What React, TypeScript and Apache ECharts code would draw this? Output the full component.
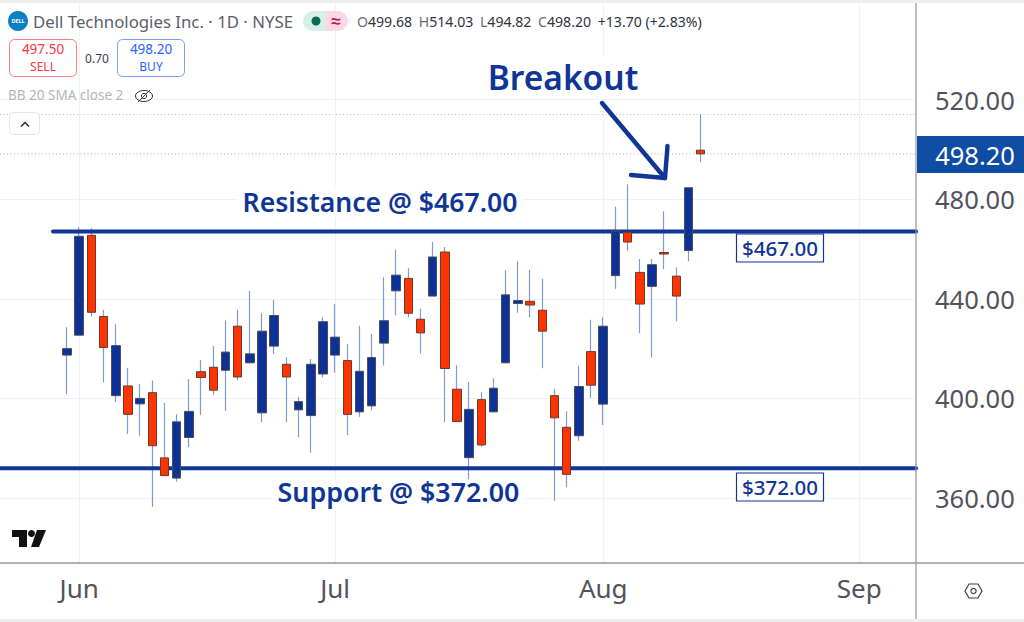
import React, { useEffect, useRef } from "react";
import * as echarts from "echarts";

// [open, close] bodies and wick extremes, one entry per trading day
const opens = [417.4,425.4,465.5,432.9,401.1,405,397.8,402.3,376.1,368,384.3,410.7,412.5,411.3,429,414.3,394.2,421,413.7,395.4,393.1,409.8,417.4,415.2,394.6,397,422.2,443.2,448.2,431.8,441.1,458.8,403.7,376.2,399.5,394.6,414.3,438.1,439,435.4,401.1,388.4,385,418.8,397.7,449.3,466.7,450.6,445,458.6,449.1,459.4,499.68];
const closes = [420,465.1,434.6,420.4,421.2,393.6,400,381,369,390.6,394.8,408.4,403.3,418.6,408.6,417.9,427,433.3,408.6,398.7,413.7,430.8,424.6,393.6,410.9,416.4,431.2,449.5,434.2,426.3,456.8,412,390.7,395.6,381.3,404.1,441.6,439.3,437.5,427,392.2,369.5,404.8,405.3,429,467.2,462.8,437.9,453.7,458,441.1,484.6,498.2];
const lows = [401.7,425.4,432.9,406.4,398.6,385.7,385,356.5,369,366.6,380.5,393.4,401.5,395,407.2,414.1,390.4,417.8,390.4,384.4,378.2,408.4,410.4,385.3,392.6,395.2,413.2,433.4,432.5,418,441.1,390.4,390.5,367.6,380.6,394.5,414.1,434.4,432.5,412.1,358.9,364.3,383,400.3,389.3,444,459.3,426.2,416.4,451.8,431,455,494.82];
const highs = [428.6,468.8,468.4,435.6,429.8,412.3,405.8,407.2,398.2,393.6,407.8,415.5,421,431.3,435.6,443.2,434.2,439.6,416.5,400.5,415.8,432.6,437.9,421.9,429.2,425.8,448.7,459.8,452.3,436.1,462.8,460.8,413.3,406.5,402.5,408.1,451.4,455,451.7,448,403.8,394.8,413.1,431.6,432.5,477,486,456,456,475.1,452.6,484.6,514.03];

const monthNames = ["Jun", "Jul", "Aug", "Sep"];
const monthBars = [1, 22, 44, 65];
const priceTicks = [360, 400, 440, 480, 520];
const resistance = 467;
const support = 372;
const lastHigh = 514.03;
const lastClose = 498.2;

const LEAD = 5;
const BANDS = 75;
const NAVY = "#0f3596";
const FONT = '"Noto Sans", sans-serif';

const blanks = Array.from({ length: LEAD }, () => ["-", "-", "-", "-"]);
const categories = Array.from({ length: BANDS }, (_, i) => {
  const k = monthBars.indexOf(i - LEAD);
  return k >= 0 ? monthNames[k] : "";
});
const isMonth = (i: number) => monthBars.indexOf(i - LEAD) >= 0;

const wickData = [...blanks, ...opens.map((o, i) => [o, closes[i], lows[i], highs[i]])];
const bodyData = [...blanks, ...opens.map((o, i) => [o, closes[i], Math.min(o, closes[i]), Math.max(o, closes[i])])];

const txt = (text: string, x: number, y: number, fill: string, size: number, align = "left", weight: any = 400, z = 10) => ({
  type: "text",
  x,
  y,
  z,
  style: { text, fill, font: `${weight} ${size}px ${FONT}`, textAlign: align, textVerticalAlign: "middle" },
});

const whiteBox = (x: number, y: number, width: number, height: number) => ({
  type: "rect",
  z: 1,
  shape: { x, y, width, height },
  style: { fill: "#ffffff" },
});

const graphics: any[] = [
  { type: "rect", z: 20, shape: { x: 0, y: 0, width: 1024, height: 3 }, style: { fill: "#eeeeee" } },
  { type: "rect", z: 20, shape: { x: 0, y: 619, width: 1024, height: 3 }, style: { fill: "#f0f0f0" } },
  { type: "line", z: 20, shape: { x1: 916, y1: 3, x2: 916, y2: 619 }, style: { stroke: "#8f929b", lineWidth: 1.2 } },
  { type: "line", z: 20, shape: { x1: 0, y1: 563, x2: 1024, y2: 563 }, style: { stroke: "#9598a1", lineWidth: 1.4 } },

  // header
  { type: "circle", z: 10, shape: { cx: 18, cy: 21, r: 10 }, style: { fill: "#0a7fc4" } },
  txt("DELL", 18, 21, "#ffffff", 5.5, "center", 700, 11),
  txt("Dell Technologies Inc. · 1D · NYSE", 33, 21, "#5d606b", 16.8),
  { type: "rect", z: 10, shape: { x: 303, y: 11, width: 30, height: 20, r: [10, 0, 0, 10] }, style: { fill: "#d8efe9" } },
  { type: "rect", z: 11, shape: { x: 326, y: 11, width: 22, height: 20, r: [0, 10, 10, 0] }, style: { fill: "#fbd8e4" } },
  { type: "circle", z: 12, shape: { cx: 316, cy: 21, r: 4.5 }, style: { fill: "#0a6b55" } },
  txt("≈", 336, 20, "#c2185b", 17, "center", 700, 12),
  {
    type: "text",
    x: 357,
    y: 21,
    z: 10,
    style: {
      text: "{g|O}{d|499.68}  {g|H}{d|514.03}  {g|L}{d|494.82}  {g|C}{d|498.20}  {d|+13.70 (+2.83%)}",
      textVerticalAlign: "middle",
      rich: {
        g: { fill: "#6a6d78", font: `400 14.1px ${FONT}` },
        d: { fill: "#2f3240", font: `400 14.1px ${FONT}` },
      },
    },
  },
  { type: "rect", z: 10, shape: { x: 9.5, y: 39.5, width: 67, height: 37, r: 5 }, style: { fill: "#fff", stroke: "#f77c80", lineWidth: 1 } },
  txt("497.50", 43, 48.5, "#f23645", 13.5, "center", 400, 11),
  txt("SELL", 43, 66.5, "#f23645", 12, "center", 400, 11),
  txt("0.70", 97, 58, "#3a3d48", 12, "center"),
  { type: "rect", z: 10, shape: { x: 117.5, y: 39.5, width: 67, height: 37, r: 5 }, style: { fill: "#fff", stroke: "#7e9bff", lineWidth: 1 } },
  txt("498.20", 151, 48.5, "#2962ff", 13.5, "center", 400, 11),
  txt("BUY", 151, 66.5, "#2962ff", 12, "center", 400, 11),
  txt("BB 20 SMA close 2", 8, 95, "#b2b5be", 13.5),
  { type: "ellipse", z: 10, shape: { cx: 144, cy: 96, rx: 8.5, ry: 5.5 }, style: { fill: "none", stroke: "#333", lineWidth: 1 } },
  { type: "circle", z: 10, shape: { cx: 144, cy: 96, r: 2.6 }, style: { fill: "none", stroke: "#333", lineWidth: 1 } },
  { type: "line", z: 10, shape: { x1: 138, y1: 102, x2: 150, y2: 90 }, style: { stroke: "#333", lineWidth: 1 } },
  { type: "rect", z: 10, shape: { x: 9.5, y: 112.5, width: 30, height: 22, r: 4 }, style: { fill: "#fff", stroke: "#e4e6ec", lineWidth: 1 } },
  { type: "polyline", z: 11, shape: { points: [[21, 126.5], [25, 122.5], [29, 126.5]] }, style: { fill: "none", stroke: "#222", lineWidth: 1.4 } },

  // annotations
  whiteBox(481, 55, 164, 44),
  txt("Breakout", 563, 77, NAVY, 33.5, "center", 600),
  { type: "line", z: 10, shape: { x1: 602, y1: 103, x2: 665, y2: 178 }, style: { stroke: NAVY, lineWidth: 4.4, lineCap: "round" } },
  { type: "polyline", z: 10, shape: { points: [[667.5, 146], [665, 178], [631, 175]] }, style: { fill: "none", stroke: NAVY, lineWidth: 4.4, lineCap: "round", lineJoin: "round" } },
  whiteBox(238, 186, 284, 32),
  txt("Resistance @ $467.00", 380, 202, NAVY, 26.6, "center", 600),
  whiteBox(272, 481, 253, 26),
  txt("Support @ $372.00", 398.5, 491, NAVY, 26.8, "center", 600),
  { type: "rect", z: 10, shape: { x: 736.5, y: 234, width: 87, height: 28 }, style: { fill: "#fff", stroke: NAVY, lineWidth: 1.2 } },
  txt("$467.00", 780, 248, NAVY, 20.5, "center", 500, 11),
  { type: "rect", z: 10, shape: { x: 736.5, y: 473, width: 87, height: 28 }, style: { fill: "#fff", stroke: NAVY, lineWidth: 1.2 } },
  txt("$372.00", 780, 487, NAVY, 20.5, "center", 500, 11),

  // last price tag
  { type: "rect", z: 15, shape: { x: 917, y: 136, width: 107, height: 37 }, style: { fill: "#0f4ca3" } },
  txt("498.20", 975, 154.5, "#ffffff", 25.5, "center", 400, 16),

  // TradingView mark
  { type: "polygon", z: 10, shape: { points: [[12, 530], [27, 530], [27, 547], [19, 547], [19, 537], [12, 537]] }, style: { fill: "#111" } },
  { type: "circle", z: 10, shape: { cx: 31.5, cy: 533.5, r: 3.5 }, style: { fill: "#111" } },
  { type: "polygon", z: 10, shape: { points: [[37, 530], [46, 530], [39, 547], [31, 547]] }, style: { fill: "#111" } },

  // settings hexagon
  { type: "polygon", z: 10, shape: { points: [[965, 591], [969, 584], [978, 584], [982, 591], [978, 598], [969, 598]] }, style: { fill: "none", stroke: "#3a3d48", lineWidth: 1.2 } },
  { type: "circle", z: 10, shape: { cx: 973.5, cy: 591, r: 2.6 }, style: { fill: "none", stroke: "#3a3d48", lineWidth: 1.2 } },
];

const levelData = [[resistance], [support]];
const dottedData = [[lastHigh, 0], [lastClose, 1]];

export default function App() {
  const ref = useRef<HTMLDivElement>(null);
  useEffect(() => {
    if (!ref.current) return;
    document.body.style.margin = "0";
    const chart = echarts.init(ref.current, undefined, { renderer: "svg" });
    chart.setOption({
      animation: false,
      backgroundColor: "#ffffff",
      textStyle: { fontFamily: FONT },
      grid: { left: 0, top: 0, width: 914, height: 563, containLabel: false },
      xAxis: {
        type: "category",
        data: categories,
        boundaryGap: true,
        axisLine: { show: false },
        axisTick: { show: false },
        axisLabel: {
          interval: (i: number) => isMonth(i),
          color: "#50535e",
          fontSize: 26,
          fontFamily: FONT,
          margin: 12,
          hideOverlap: false,
        },
        splitLine: {
          show: true,
          alignWithLabel: true,
          interval: (i: number) => isMonth(i),
          lineStyle: { color: "#eef1f7", width: 1 },
        },
      },
      yAxis: {
        type: "value",
        position: "right",
        min: 333.9,
        max: 560,
        axisLine: { show: false },
        axisTick: { show: false, customValues: priceTicks },
        axisLabel: {
          customValues: priceTicks,
          formatter: (v: number) => v.toFixed(2),
          color: "#50535e",
          fontSize: 25.5,
          fontFamily: FONT,
          margin: 21,
          showMinLabel: true,
          showMaxLabel: true,
        },
        splitLine: { show: true, lineStyle: { color: "#eef1f7", width: 1 } },
      },
      graphic: { elements: graphics },
      series: [
        {
          type: "custom",
          z: 1,
          coordinateSystem: "cartesian2d",
          silent: true,
          clip: false,
          data: dottedData,
          encode: { y: 0 },
          renderItem: (params: any, api: any) => {
            const y = api.coord([0, api.value(0)])[1];
            return {
              type: "line",
              shape: { x1: 0, y1: y, x2: 916, y2: y },
              style: { stroke: api.value(1) ? "#ee8f96" : "#b8bbc4", lineWidth: 1, lineDash: [1, 2.5] },
            };
          },
        },
        {
          type: "candlestick",
          z: 2,
          barWidth: 1,
          data: wickData,
          itemStyle: { color: "#7f9bd1", color0: "#7f9bd1", borderColor: "#7f9bd1", borderColor0: "#7f9bd1", borderWidth: 1.2 },
        },
        {
          type: "custom",
          z: 3,
          coordinateSystem: "cartesian2d",
          silent: true,
          clip: false,
          data: levelData,
          encode: { y: 0 },
          renderItem: (params: any, api: any) => {
            const y = api.coord([0, api.value(0)])[1];
            return {
              type: "line",
              shape: { x1: params.dataIndex === 0 ? 53 : 0, y1: y, x2: 916, y2: y },
              style: { stroke: "#0f3596", lineWidth: 4, lineCap: "round" },
            };
          },
        },
        {
          type: "candlestick",
          z: 4,
          barWidth: 9,
          data: bodyData,
          itemStyle: { color: "#0d3196", color0: "#ff3300", borderColor: "#4a4e5a", borderColor0: "#6a3a2a", borderWidth: 1 },
        },
      ],
    });
    return () => chart.dispose();
  }, []);
  return <div ref={ref} style={{ position: "fixed", left: 0, top: 0, width: 1024, height: 622 }} />;
}
